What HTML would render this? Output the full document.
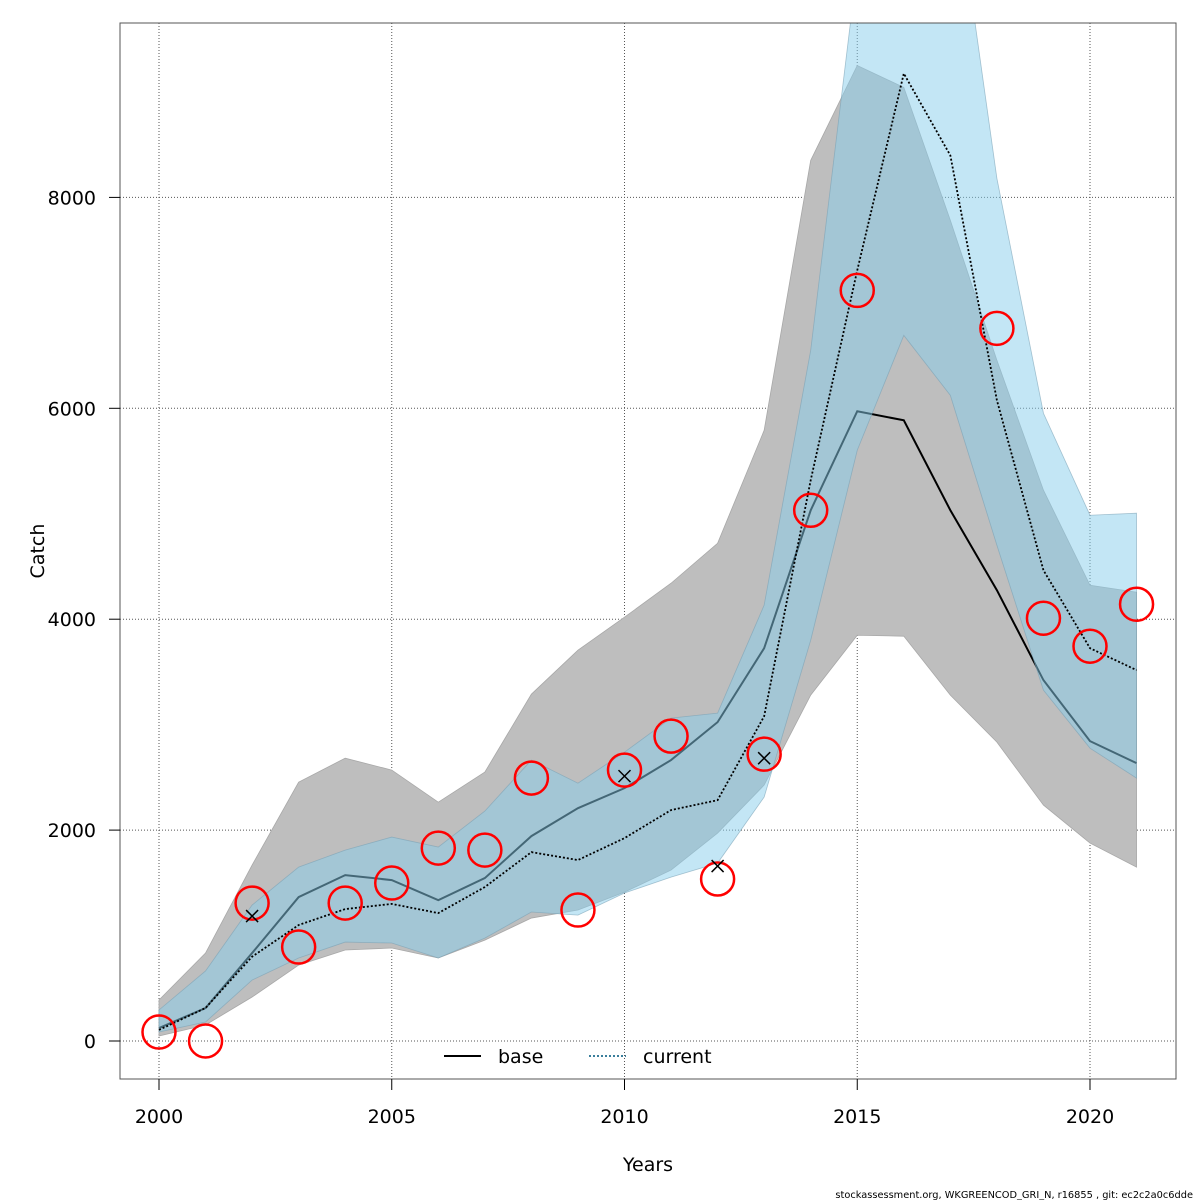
<!DOCTYPE html>
<html><head><meta charset="utf-8"><style>
html,body{margin:0;padding:0;background:#fff;}
svg{display:block;font-family:"DejaVu Sans","Liberation Sans",sans-serif;}
</style></head><body>
<svg id="chart" width="1200" height="1200" viewBox="0 0 1200 1200">
<defs><clipPath id="clip"><rect x="120" y="23" width="1056" height="1056"/></clipPath></defs>
<g id="grid"></g>
<g id="bands" clip-path="url(#clip)"></g>
<g id="lines" clip-path="url(#clip)"></g>
<g id="marks"></g>
<rect x="120" y="23" width="1056" height="1056" fill="none" stroke="#555" stroke-width="1"/>
<g id="axes"></g>
<text x="44" y="551" font-size="19" text-anchor="middle" transform="rotate(-90 44 551)">Catch</text>
<text x="648" y="1171" font-size="19" text-anchor="middle">Years</text>
<g>
<g>
<line x1="444" y1="1056" x2="481" y2="1056" stroke="#000" stroke-width="2"/>
<text x="498" y="1063" font-size="19">base</text></g>
<g>
<line x1="589" y1="1056" x2="626" y2="1056" stroke="#1e6d8e" stroke-width="1.8" stroke-dasharray="2,2"/>
<text x="643" y="1063" font-size="19">current</text></g>
</g>
<text x="1193" y="1198" font-size="9.8" text-anchor="end">stockassessment.org, WKGREENCOD_GRI_N, r16855 , git: ec2c2a0c6dde</text>
</svg>
<script>
const years=[2000,2001,2002,2003,2004,2005,2006,2007,2008,2009,2010,2011,2012,2013,2014,2015,2016,2017,2018,2019,2020,2021];
const baseEst=[123,313,834,1365,1573,1526,1336,1545,1943,2208,2398,2664,3024,3725,5033,5972,5886,5033,4275,3422,2844,2635];
const baseLow=[47,152,417,720,863,882,787,957,1166,1242,1412,1621,1972,2427,3280,3848,3839,3280,2834,2237,1877,1649];
const baseHigh=[389,834,1668,2455,2682,2569,2265,2550,3289,3706,4019,4341,4720,5791,8351,9251,9043,7782,6455,5223,4322,4256];
const curEst=[105,313,800,1100,1251,1300,1213,1460,1791,1716,1924,2190,2284,3080,5318,7308,9175,8398,6076,4464,3725,3517];
const curLow=[85,180,578,787,938,929,787,976,1223,1194,1403,1554,1687,2313,3801,5602,6692,6123,4701,3327,2777,2493];
const curHigh=[294,664,1289,1649,1810,1934,1839,2180,2664,2445,2739,3062,3109,4133,6550,10190,11500,11320,8180,5953,4986,5005];
const obsYears=[2000,2001,2002,2003,2004,2005,2006,2007,2008,2009,2010,2011,2012,2013,2014,2015,2018,2019,2020,2021];
const obsVals=[85,0,1308,891,1308,1498,1829,1810,2493,1242,2569,2891,1536,2720,5033,7118,6758,4009,3744,4142];
const crossYears=[2002,2010,2012,2013];
const crossVals=[1185,2512,1659,2682];
const xTicks=[2000,2005,2010,2015,2020];
const yTicks=[0,2000,4000,6000,8000];

const NS='http://www.w3.org/2000/svg';
const X=y=>159+(y-2000)*46.55;
const Y=v=>1041-v*0.10545;
function mk(tag,attrs,parent){const e=document.createElementNS(NS,tag);for(const k in attrs)e.setAttribute(k,attrs[k]);parent.appendChild(e);return e;}
const grid=document.getElementById('grid'),bands=document.getElementById('bands'),lines=document.getElementById('lines'),marks=document.getElementById('marks'),axes=document.getElementById('axes');

xTicks.forEach(t=>{
  const g=mk('line',{x1:X(t),x2:X(t),y1:23,y2:1079,stroke:'#555','stroke-width':1,'stroke-dasharray':'1,2'},grid);
  
  
  const tk=mk('line',{x1:X(t),x2:X(t),y1:1079,y2:1090,stroke:'#000'},axes);
  
  
  const tx=mk('text',{x:X(t),y:1123,'font-size':19,'text-anchor':'middle'},axes);tx.textContent=t;
  
  
});
yTicks.forEach(t=>{
  const g=mk('line',{x1:120,x2:1176,y1:Y(t),y2:Y(t),stroke:'#555','stroke-width':1,'stroke-dasharray':'1,2'},grid);
  
  
  const tk=mk('line',{x1:109,x2:120,y1:Y(t),y2:Y(t),stroke:'#000'},axes);
  
  
  const tx=mk('text',{x:96,y:Y(t)+7,'font-size':19,'text-anchor':'end'},axes);tx.textContent=t;
  
  
});
function bandPath(lo,hi){let d='';years.forEach((y,i)=>{d+=(i?'L':'M')+X(y)+','+Y(hi[i]);});for(let i=years.length-1;i>=0;i--)d+='L'+X(years[i])+','+Y(lo[i]);return d+'Z';}
function linePath(v){return years.map((y,i)=>(i?'L':'M')+X(y)+','+Y(v[i])).join('');}
const bb=mk('path',{d:bandPath(baseLow,baseHigh),fill:'#bebebe',stroke:'#a8a8a8','stroke-width':0.8},bands);


const bl=mk('path',{d:linePath(baseEst),fill:'none',stroke:'#000','stroke-width':2},bands);


const cb=mk('path',{d:bandPath(curLow,curHigh),fill:'rgba(135,206,235,0.5)',stroke:'rgba(120,160,180,0.6)','stroke-width':0.8},bands);


const cl=mk('path',{d:linePath(curEst),fill:'none',stroke:'#000','stroke-width':1.8,'stroke-dasharray':'2,2'},lines);


obsYears.forEach((y,i)=>{
  const c=mk('circle',{cx:X(y),cy:Y(obsVals[i]),r:16.5,fill:'none',stroke:'#f00','stroke-width':2.5},marks);
  
  
});
crossYears.forEach((y,i)=>{
  const cx=X(y),cy=Y(crossVals[i]),s=6;
  const p=mk('path',{d:`M${cx-s},${cy-s}L${cx+s},${cy+s}M${cx-s},${cy+s}L${cx+s},${cy-s}`,stroke:'#000','stroke-width':1.5,fill:'none'},marks);
  
  
});
</script>
</body></html>
